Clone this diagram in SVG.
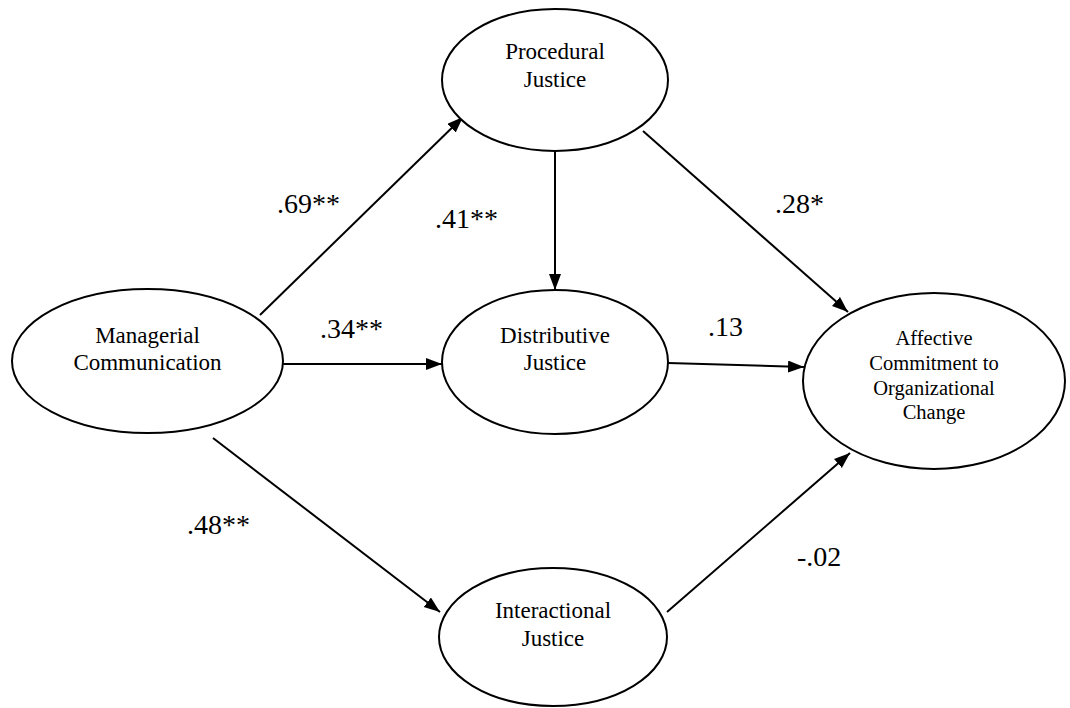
<svg xmlns="http://www.w3.org/2000/svg" width="1070" height="708" viewBox="0 0 1070 708">
<style>
.node ellipse{fill:#fff;stroke:#000;stroke-width:2}
.node text{font-family:"Liberation Serif","Times New Roman",serif;font-size:23px;text-anchor:middle;fill:#000}
.node text.small{font-size:20.5px}
.edge line{stroke:#000;stroke-width:2;fill:none}
.lbl{font-family:"Liberation Serif","Times New Roman",serif;font-size:28px;fill:#000}
</style>
<defs>
<marker id="ah" markerUnits="userSpaceOnUse" markerWidth="18" markerHeight="14" refX="16" refY="6" orient="auto">
<path d="M0,0 L16,6 L0,12 z" fill="#000"/>
</marker>
</defs>
<rect width="1070" height="708" fill="#fff"/>
<g id="connectors" class="edge">
<line x1="260" y1="315" x2="463" y2="117" marker-end="url(#ah)"/>
<line x1="555" y1="151" x2="555" y2="290" marker-end="url(#ah)"/>
<line x1="643" y1="131" x2="848" y2="312" marker-end="url(#ah)"/>
<line x1="283" y1="364" x2="442" y2="364" marker-end="url(#ah)"/>
<line x1="668" y1="363" x2="804" y2="367" marker-end="url(#ah)"/>
<line x1="213" y1="438" x2="440" y2="612" marker-end="url(#ah)"/>
<line x1="667" y1="612" x2="850" y2="453" marker-end="url(#ah)"/>
</g>
<g id="managerial" class="node">
<ellipse cx="147.5" cy="361" rx="135.5" ry="72"/>
<text x="147.5" y="343">Managerial</text>
<text x="147.5" y="370">Communication</text>
</g>
<g id="procedural" class="node">
<ellipse cx="555" cy="80" rx="113" ry="71"/>
<text x="555" y="59">Procedural</text>
<text x="555" y="87">Justice</text>
</g>
<g id="distributive" class="node">
<ellipse cx="555" cy="362" rx="113" ry="72"/>
<text x="555" y="343">Distributive</text>
<text x="555" y="370">Justice</text>
</g>
<g id="interactional" class="node">
<ellipse cx="553" cy="637" rx="114" ry="69"/>
<text x="553" y="618">Interactional</text>
<text x="553" y="646">Justice</text>
</g>
<g id="affective" class="node">
<ellipse cx="934" cy="381" rx="131" ry="88"/>
<text class="small" x="934" y="345">Affective</text>
<text class="small" x="934" y="370">Commitment to</text>
<text class="small" x="934" y="395">Organizational</text>
<text class="small" x="934" y="419">Change</text>
</g>
<g id="labels">
<text class="lbl" x="277" y="213">.69**</text>
<text class="lbl" x="435" y="228">.41**</text>
<text class="lbl" x="775" y="213">.28*</text>
<text class="lbl" x="320" y="338">.34**</text>
<text class="lbl" x="708" y="336">.13</text>
<text class="lbl" x="187" y="534">.48**</text>
<text class="lbl" x="797" y="566">-.02</text>
</g>
</svg>
